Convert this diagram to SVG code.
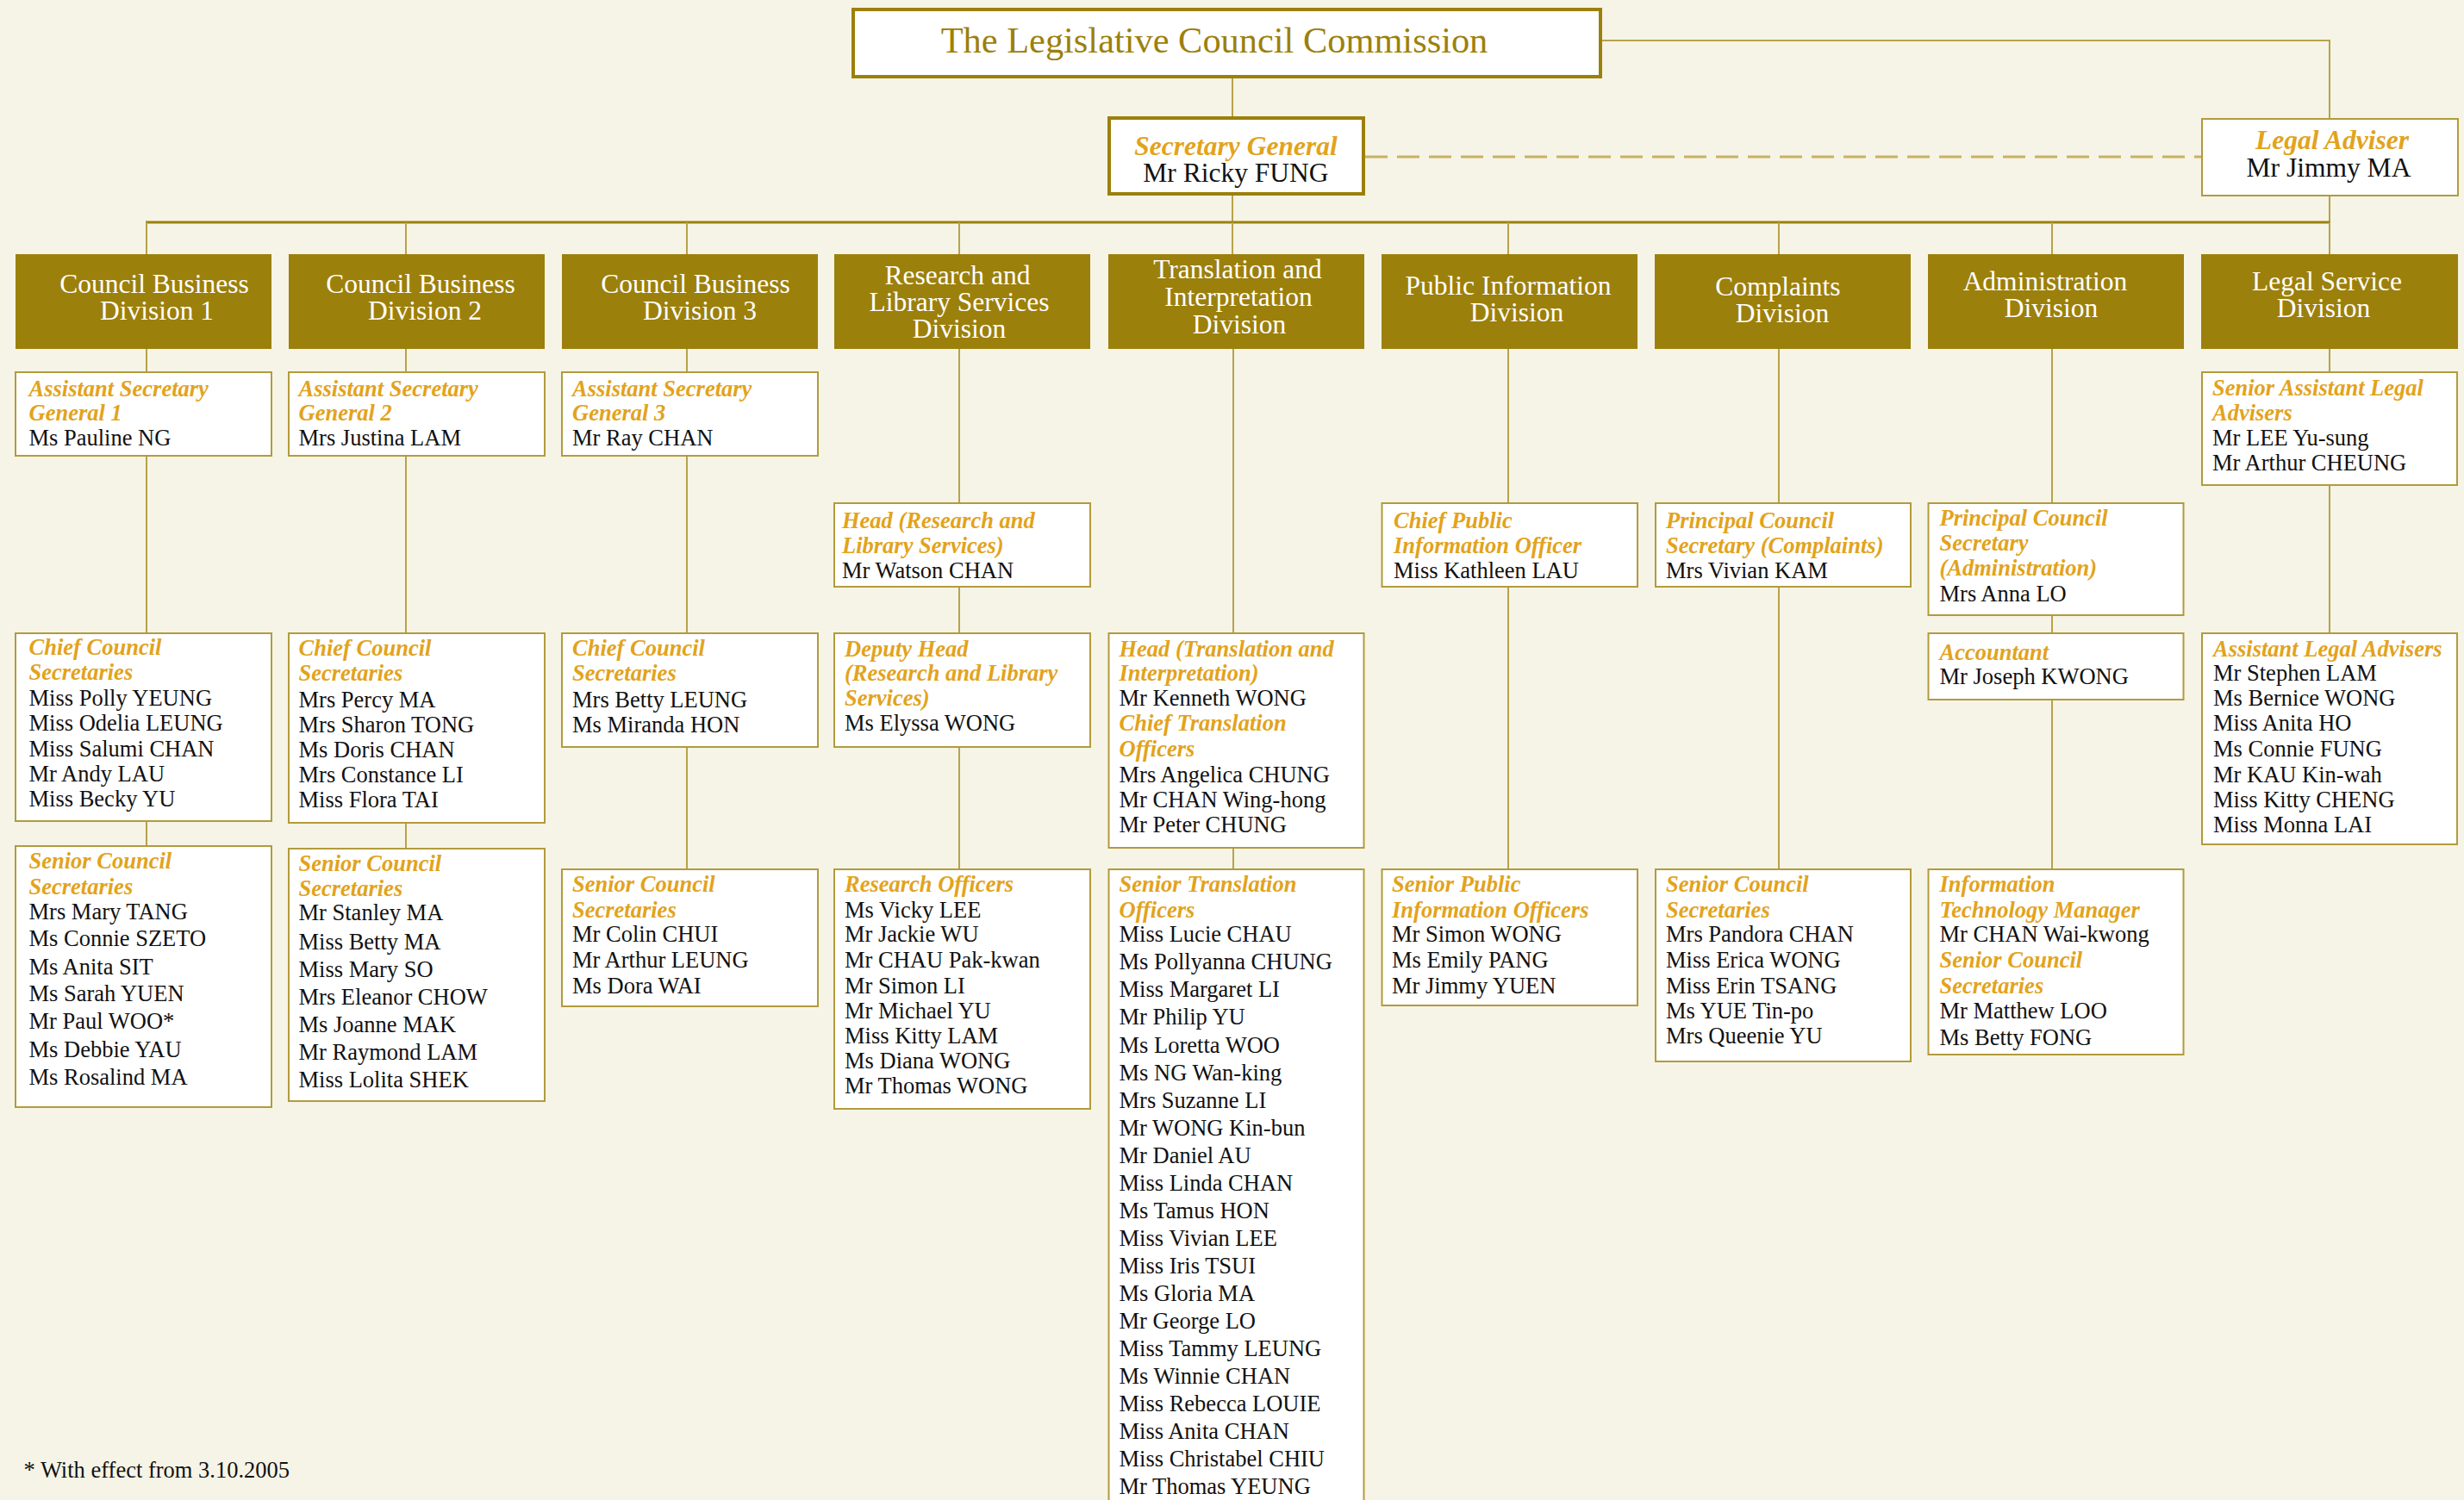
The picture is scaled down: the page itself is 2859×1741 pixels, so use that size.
<svg xmlns="http://www.w3.org/2000/svg" width="2859" height="1741" viewBox="0 0 2859 1741">
<style>
text{font-family:"Liberation Serif","Times New Roman",serif}
.bx{fill:#fff;stroke:#b29b3c;stroke-width:2}
.dv{fill:#9c800c}
.dt{fill:#fff;font-size:31.5px;text-anchor:middle}
.h{fill:#e2a31c;font-weight:bold;font-style:italic;font-size:26.5px}
.n{fill:#111;font-size:26.5px}
.ln{stroke:#b8a24c;stroke-width:2;fill:none}
</style>
<rect width="2859" height="1741" fill="#f6f4e6"/>
<g id="connectors">
<line x1="1430" y1="89" x2="1430" y2="137" class="ln"/>
<line x1="1430" y1="225" x2="1430" y2="258" class="ln"/>
<polyline points="1857,47 2703,47 2703,138" class="ln"/>
<line x1="2703" y1="227" x2="2703" y2="258" class="ln"/>
<line x1="1584" y1="182" x2="2555" y2="182" stroke="#c8b164" stroke-width="3" stroke-dasharray="26,11"/>
<line x1="169" y1="258" x2="2704" y2="258" stroke="#9c800c" stroke-width="3"/>
<path class="ln" d="M170 258V295M471 258V295M797 258V295M1113 258V295M1430 258V295M1750 258V295M2064 258V295M2381 258V295M2703 258V295"/>
<path class="ln" d="M170 405V432M170 529V735M170 953V982"/>
<path class="ln" d="M471 405V432M471 529V735M471 955V985"/>
<path class="ln" d="M797 405V432M797 529V735M797 867V1009"/>
<path class="ln" d="M1113 405V584M1113 681V735M1113 867V1009"/>
<path class="ln" d="M1431 405V735M1431 984V1009"/>
<path class="ln" d="M1750 405V584M1750 681V1009"/>
<path class="ln" d="M2064 405V584M2064 681V1009"/>
<path class="ln" d="M2381 405V584M2381 714V735M2381 812V1009"/>
<path class="ln" d="M2703 405V432M2703 563V735"/>
</g>
<g id="commission">
<rect x="990" y="11" width="867" height="78" fill="#fff" stroke="#9c800c" stroke-width="4"/>
<text x="1409" y="61" fill="#9c800c" font-size="42.4" text-anchor="middle">The Legislative Council Commission</text>
</g>
<g id="secretary-general">
<rect x="1287" y="137" width="295" height="88" fill="#fff" stroke="#9c800c" stroke-width="4"/>
<text x="1434" y="180" class="h" font-size="31.5" text-anchor="middle" style="font-size:31.5px">Secretary General</text>
<text x="1434" y="211" class="n" text-anchor="middle" style="font-size:31.5px">Mr Ricky FUNG</text>
</g>
<g id="legal-adviser">
<rect x="2555" y="138" width="297" height="89" class="bx"/>
<text x="2706" y="173" class="h" text-anchor="middle" style="font-size:31.5px">Legal Adviser</text>
<text x="2702" y="205" class="n" text-anchor="middle" style="font-size:31.5px">Mr Jimmy MA</text>
</g>
<g id="div-cbd1"><rect x="18" y="295" width="297" height="110" class="dv"/><text class="dt"><tspan x="179" y="340">Council Business</tspan><tspan x="182" y="371">Division 1</tspan></text></g>
<g id="div-cbd2"><rect x="335" y="295" width="297" height="110" class="dv"/><text class="dt"><tspan x="488" y="340">Council Business</tspan><tspan x="493" y="371">Division 2</tspan></text></g>
<g id="div-cbd3"><rect x="652" y="295" width="297" height="110" class="dv"/><text class="dt"><tspan x="807" y="340">Council Business</tspan><tspan x="812" y="371">Division 3</tspan></text></g>
<g id="div-rls"><rect x="968" y="295" width="297" height="110" class="dv"/><text class="dt"><tspan x="1111" y="330">Research and</tspan><tspan x="1113" y="361">Library Services</tspan><tspan x="1113" y="392">Division</tspan></text></g>
<g id="div-ti"><rect x="1286" y="295" width="297" height="110" class="dv"/><text class="dt"><tspan x="1436" y="323">Translation and</tspan><tspan x="1437" y="355">Interpretation</tspan><tspan x="1438" y="387">Division</tspan></text></g>
<g id="div-pi"><rect x="1603" y="295" width="297" height="110" class="dv"/><text class="dt"><tspan x="1750" y="342">Public Information</tspan><tspan x="1760" y="373">Division</tspan></text></g>
<g id="div-comp"><rect x="1920" y="295" width="297" height="110" class="dv"/><text class="dt"><tspan x="2063" y="343">Complaints</tspan><tspan x="2068" y="374">Division</tspan></text></g>
<g id="div-admin"><rect x="2237" y="295" width="297" height="110" class="dv"/><text class="dt"><tspan x="2373" y="337">Administration</tspan><tspan x="2380" y="368">Division</tspan></text></g>
<g id="div-legal"><rect x="2554" y="295" width="298" height="110" class="dv"/><text class="dt"><tspan x="2700" y="337">Legal Service</tspan><tspan x="2696" y="368">Division</tspan></text></g>

<g id="asg1"><rect x="18" y="432" width="297" height="97" class="bx"/>
<text class="h"><tspan x="33.5" y="460">Assistant Secretary</tspan><tspan x="33.5" y="488">General 1</tspan></text>
<text class="n" x="33.5" y="517">Ms Pauline NG</text></g>
<g id="asg2"><rect x="335" y="432" width="297" height="97" class="bx"/>
<text class="h"><tspan x="346.5" y="460">Assistant Secretary</tspan><tspan x="346.5" y="488">General 2</tspan></text>
<text class="n" x="346.5" y="517">Mrs Justina LAM</text></g>
<g id="asg3"><rect x="652" y="432" width="297" height="97" class="bx"/>
<text class="h"><tspan x="664" y="460">Assistant Secretary</tspan><tspan x="664" y="488">General 3</tspan></text>
<text class="n" x="664" y="517">Mr Ray CHAN</text></g>

<g id="ccs1"><rect x="18" y="735" width="297" height="218" class="bx"/>
<text class="h"><tspan x="33.5" y="760">Chief Council</tspan><tspan x="33.5" y="789">Secretaries</tspan></text>
<text class="n"><tspan x="33.5" y="819">Miss Polly YEUNG</tspan><tspan x="33.5" y="848">Miss Odelia LEUNG</tspan><tspan x="33.5" y="877.5">Miss Salumi CHAN</tspan><tspan x="33.5" y="906.5">Mr Andy LAU</tspan><tspan x="33.5" y="935.5">Miss Becky YU</tspan></text></g>
<g id="ccs2"><rect x="335" y="735" width="297" height="220" class="bx"/>
<text class="h"><tspan x="346.5" y="761">Chief Council</tspan><tspan x="346.5" y="790">Secretaries</tspan></text>
<text class="n"><tspan x="346.5" y="820.5">Mrs Percy MA</tspan><tspan x="346.5" y="850">Mrs Sharon TONG</tspan><tspan x="346.5" y="879">Ms Doris CHAN</tspan><tspan x="346.5" y="908.3">Mrs Constance LI</tspan><tspan x="346.5" y="937.3">Miss Flora TAI</tspan></text></g>
<g id="ccs3"><rect x="652" y="735" width="297" height="132" class="bx"/>
<text class="h"><tspan x="664" y="761">Chief Council</tspan><tspan x="664" y="790">Secretaries</tspan></text>
<text class="n"><tspan x="664" y="820.5">Mrs Betty LEUNG</tspan><tspan x="664" y="850">Ms Miranda HON</tspan></text></g>

<g id="scs1"><rect x="18" y="982" width="297" height="303" class="bx"/>
<text class="h"><tspan x="33.5" y="1008.3">Senior Council</tspan><tspan x="33.5" y="1038.3">Secretaries</tspan></text>
<text class="n"><tspan x="33.5" y="1066.7">Mrs Mary TANG</tspan><tspan x="33.5" y="1098.3">Ms Connie SZETO</tspan><tspan x="33.5" y="1130.7">Ms Anita SIT</tspan><tspan x="33.5" y="1162.3">Ms Sarah YUEN</tspan><tspan x="33.5" y="1194.3">Mr Paul WOO*</tspan><tspan x="33.5" y="1226.7">Ms Debbie YAU</tspan><tspan x="33.5" y="1258.7">Ms Rosalind MA</tspan></text></g>
<g id="scs2"><rect x="335" y="985" width="297" height="293" class="bx"/>
<text class="h"><tspan x="346.5" y="1011">Senior Council</tspan><tspan x="346.5" y="1040">Secretaries</tspan></text>
<text class="n"><tspan x="346.5" y="1068.3">Mr Stanley MA</tspan><tspan x="346.5" y="1101.7">Miss Betty MA</tspan><tspan x="346.5" y="1134">Miss Mary SO</tspan><tspan x="346.5" y="1166">Mrs Eleanor CHOW</tspan><tspan x="346.5" y="1198.3">Ms Joanne MAK</tspan><tspan x="346.5" y="1230">Mr Raymond LAM</tspan><tspan x="346.5" y="1261.7">Miss Lolita SHEK</tspan></text></g>
<g id="scs3"><rect x="652" y="1009" width="297" height="159" class="bx"/>
<text class="h"><tspan x="664" y="1035">Senior Council</tspan><tspan x="664" y="1065">Secretaries</tspan></text>
<text class="n"><tspan x="664" y="1093.3">Mr Colin CHUI</tspan><tspan x="664" y="1122.7">Mr Arthur LEUNG</tspan><tspan x="664" y="1152.7">Ms Dora WAI</tspan></text></g>

<g id="head-rls"><rect x="968" y="584" width="297" height="97" class="bx"/>
<text class="h"><tspan x="977" y="612.7">Head (Research and</tspan><tspan x="977" y="641.7">Library Services)</tspan></text>
<text class="n" x="977" y="671">Mr Watson CHAN</text></g>
<g id="deputy-rls"><rect x="968" y="735" width="297" height="132" class="bx"/>
<text class="h"><tspan x="980" y="761.7">Deputy Head</tspan><tspan x="980" y="790">(Research and Library</tspan><tspan x="980" y="819.3">Services)</tspan></text>
<text class="n" x="980" y="848.3">Ms Elyssa WONG</text></g>
<g id="ro"><rect x="968" y="1009" width="297" height="278" class="bx"/>
<text class="h" x="980" y="1035">Research Officers</text>
<text class="n"><tspan x="980" y="1065">Ms Vicky LEE</tspan><tspan x="980" y="1093.3">Mr Jackie WU</tspan><tspan x="980" y="1122.7">Mr CHAU Pak-kwan</tspan><tspan x="980" y="1152.7">Mr Simon LI</tspan><tspan x="980" y="1181.7">Mr Michael YU</tspan><tspan x="980" y="1211">Miss Kitty LAM</tspan><tspan x="980" y="1240">Ms Diana WONG</tspan><tspan x="980" y="1269.3">Mr Thomas WONG</tspan></text></g>

<g id="head-ti"><rect x="1286.5" y="735" width="296" height="249" class="bx"/>
<text class="h"><tspan x="1298.5" y="761.7">Head (Translation and</tspan><tspan x="1298.5" y="790">Interpretation)</tspan></text>
<text class="n" x="1298.5" y="819.3">Mr Kenneth WONG</text>
<text class="h"><tspan x="1298.5" y="848.3">Chief Translation</tspan><tspan x="1298.5" y="878.3">Officers</tspan></text>
<text class="n"><tspan x="1298.5" y="907.7">Mrs Angelica CHUNG</tspan><tspan x="1298.5" y="936.7">Mr CHAN Wing-hong</tspan><tspan x="1298.5" y="966">Mr Peter CHUNG</tspan></text></g>
<g id="sto"><rect x="1286.5" y="1009" width="296" height="745" class="bx"/>
<text class="h"><tspan x="1298.5" y="1035">Senior Translation</tspan><tspan x="1298.5" y="1065">Officers</tspan></text>
<text class="n"><tspan x="1298.5" y="1093.3">Miss Lucie CHAU</tspan><tspan x="1298.5" y="1125.3">Ms Pollyanna CHUNG</tspan><tspan x="1298.5" y="1157.4">Miss Margaret LI</tspan><tspan x="1298.5" y="1189.4">Mr Philip YU</tspan><tspan x="1298.5" y="1221.5">Ms Loretta WOO</tspan><tspan x="1298.5" y="1253.5">Ms NG Wan-king</tspan><tspan x="1298.5" y="1285.6">Mrs Suzanne LI</tspan><tspan x="1298.5" y="1317.6">Mr WONG Kin-bun</tspan><tspan x="1298.5" y="1349.7">Mr Daniel AU</tspan><tspan x="1298.5" y="1381.7">Miss Linda CHAN</tspan><tspan x="1298.5" y="1413.8">Ms Tamus HON</tspan><tspan x="1298.5" y="1445.8">Miss Vivian LEE</tspan><tspan x="1298.5" y="1477.9">Miss Iris TSUI</tspan><tspan x="1298.5" y="1509.9">Ms Gloria MA</tspan><tspan x="1298.5" y="1542">Mr George LO</tspan><tspan x="1298.5" y="1574">Miss Tammy LEUNG</tspan><tspan x="1298.5" y="1606.1">Ms Winnie CHAN</tspan><tspan x="1298.5" y="1638.1">Miss Rebecca LOUIE</tspan><tspan x="1298.5" y="1670.2">Miss Anita CHAN</tspan><tspan x="1298.5" y="1702.2">Miss Christabel CHIU</tspan><tspan x="1298.5" y="1734.3">Mr Thomas YEUNG</tspan></text></g>

<g id="cpio"><rect x="1603.5" y="584" width="296.5" height="97" class="bx"/>
<text class="h"><tspan x="1617" y="612.7">Chief Public</tspan><tspan x="1617" y="641.7">Information Officer</tspan></text>
<text class="n" x="1617" y="671">Miss Kathleen LAU</text></g>
<g id="spio"><rect x="1603.5" y="1009" width="296.5" height="158" class="bx"/>
<text class="h"><tspan x="1615" y="1035">Senior Public</tspan><tspan x="1615" y="1065">Information Officers</tspan></text>
<text class="n"><tspan x="1615" y="1093.3">Mr Simon WONG</tspan><tspan x="1615" y="1122.7">Ms Emily PANG</tspan><tspan x="1615" y="1152.7">Mr Jimmy YUEN</tspan></text></g>

<g id="pcs-comp"><rect x="1921" y="584" width="296" height="97" class="bx"/>
<text class="h"><tspan x="1933" y="612.7">Principal Council</tspan><tspan x="1933" y="641.7">Secretary (Complaints)</tspan></text>
<text class="n" x="1933" y="671">Mrs Vivian KAM</text></g>
<g id="scs-comp"><rect x="1921" y="1009" width="296" height="223" class="bx"/>
<text class="h"><tspan x="1933" y="1035">Senior Council</tspan><tspan x="1933" y="1065">Secretaries</tspan></text>
<text class="n"><tspan x="1933" y="1093.3">Mrs Pandora CHAN</tspan><tspan x="1933" y="1122.7">Miss Erica WONG</tspan><tspan x="1933" y="1152.7">Miss Erin TSANG</tspan><tspan x="1933" y="1181.7">Ms YUE Tin-po</tspan><tspan x="1933" y="1211">Mrs Queenie YU</tspan></text></g>

<g id="pcs-admin"><rect x="2237.5" y="584" width="296" height="130" class="bx"/>
<text class="h"><tspan x="2250.5" y="610">Principal Council</tspan><tspan x="2250.5" y="639">Secretary</tspan><tspan x="2250.5" y="668">(Administration)</tspan></text>
<text class="n" x="2250.5" y="697.7">Mrs Anna LO</text></g>
<g id="accountant"><rect x="2237.5" y="735" width="296" height="77" class="bx"/>
<text class="h" x="2250.5" y="766">Accountant</text>
<text class="n" x="2250.5" y="794">Mr Joseph KWONG</text></g>
<g id="itm"><rect x="2237.5" y="1009" width="296" height="215" class="bx"/>
<text class="h"><tspan x="2250.5" y="1035">Information</tspan><tspan x="2250.5" y="1065">Technology Manager</tspan></text>
<text class="n" x="2250.5" y="1093.3">Mr CHAN Wai-kwong</text>
<text class="h"><tspan x="2250.5" y="1122.7">Senior Council</tspan><tspan x="2250.5" y="1152.7">Secretaries</tspan></text>
<text class="n"><tspan x="2250.5" y="1181.7">Mr Matthew LOO</tspan><tspan x="2250.5" y="1213">Ms Betty FONG</tspan></text></g>

<g id="sala"><rect x="2555" y="432" width="296" height="131" class="bx"/>
<text class="h"><tspan x="2567" y="459">Senior Assistant Legal</tspan><tspan x="2567" y="488">Advisers</tspan></text>
<text class="n"><tspan x="2567" y="517">Mr LEE Yu-sung</tspan><tspan x="2567" y="546">Mr Arthur CHEUNG</tspan></text></g>
<g id="ala"><rect x="2555" y="735" width="296" height="245" class="bx"/>
<text class="h" x="2568" y="761.7">Assistant Legal Advisers</text>
<text class="n"><tspan x="2568" y="790">Mr Stephen LAM</tspan><tspan x="2568" y="819.3">Ms Bernice WONG</tspan><tspan x="2568" y="848.3">Miss Anita HO</tspan><tspan x="2568" y="878.3">Ms Connie FUNG</tspan><tspan x="2568" y="907.7">Mr KAU Kin-wah</tspan><tspan x="2568" y="936.7">Miss Kitty CHENG</tspan><tspan x="2568" y="966">Miss Monna LAI</tspan></text></g>

<text class="n" x="27.5" y="1715">* With effect from 3.10.2005</text>
</svg>
